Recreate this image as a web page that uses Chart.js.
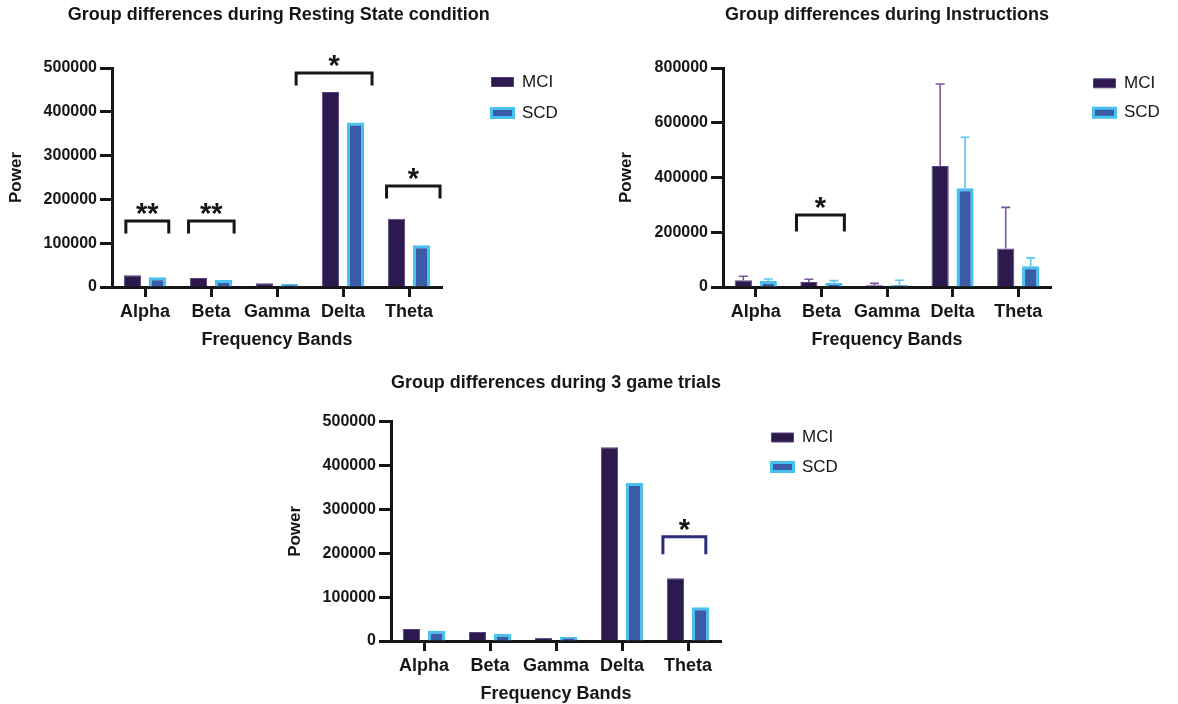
<!DOCTYPE html>
<html><head><meta charset="utf-8">
<script src="https://cdn.jsdelivr.net/npm/chart.js@4.4.1/dist/chart.umd.min.js"></script>
<style>
html,body{margin:0;padding:0;background:#fff;overflow:hidden;width:1178px;height:704px;}
canvas{position:absolute;}
</style></head><body>
<canvas id="c1" width="580" height="355" style="left:0;top:0"></canvas>
<canvas id="c2" width="578" height="355" style="left:600px;top:0"></canvas>
<canvas id="c3" width="580" height="341" style="left:280px;top:368px"></canvas>
<script>
// ---- data ----
const categories = ['Alpha', 'Beta', 'Gamma', 'Delta', 'Theta'];
const seriesNames = ['MCI', 'SCD'];

const restMCI = [26700, 20600, 8400, 445000, 155700];
const restSCD = [22100, 16000, 6900, 375600, 95400];

const instrMCI = [24400, 18300, 6100, 442100, 140500];
const instrSCD = [22000, 14700, 7300, 360300, 75700];
const instrErrMCI = [14700, 9800, 7300, 299300, 150200];
const instrErrSCD = [7300, 8500, 17100, 186900, 30600];

const gameMCI = [27400, 20500, 7600, 441500, 142900];
const gameSCD = [23600, 16700, 9900, 360000, 76700];

const restTicks = [0, 100000, 200000, 300000, 400000, 500000];
const instrTicks = [0, 200000, 400000, 600000, 800000];
const gameTicks = [0, 100000, 200000, 300000, 400000, 500000];

// significance brackets: span in category units, height in data units
const restSig = [
  {from: -0.29, to: 0.36, value: 150400, label: '**'},
  {from: 0.66, to: 1.35, value: 150400, label: '**'},
  {from: 2.29, to: 3.44, value: 488500, label: '*'},
  {from: 3.66, to: 4.47, value: 230500, label: '*'}
];
const instrSig = [{from: 0.62, to: 1.35, value: 262600, label: '*'}];
const gameSig = [{from: 3.62, to: 4.27, value: 237800, label: '*'}];

// ---- style ----
const FONT = "'Liberation Sans', Arial, Helvetica, sans-serif";
const INK = '#161616';
const MCI_FILL = '#2c1a4f', MCI_EDGE = '#5b3f82';
const SCD_FILL = '#3a5ca8', SCD_EDGE = '#47c2ef';
const MCI_ERR = '#7b579d', SCD_ERR = '#5cc6f0';

const overlay = {
  id: 'overlay',
  afterDatasetsDraw(chart, args, opts) {
    const ctx = chart.ctx, x = chart.scales.x, y = chart.scales.y;
    ctx.save();
    (opts.errors || []).forEach((errs, di) => {
      if (!errs) return;
      const meta = chart.getDatasetMeta(di);
      const vals = chart.data.datasets[di].data;
      ctx.strokeStyle = opts.errColors[di];
      ctx.lineWidth = 1.6;
      meta.data.forEach((bar, i) => {
        const yTop = y.getPixelForValue(vals[i] + errs[i]);
        ctx.beginPath();
        ctx.moveTo(bar.x, bar.y);
        ctx.lineTo(bar.x, yTop);
        ctx.moveTo(bar.x - 4.5, yTop);
        ctx.lineTo(bar.x + 4.5, yTop);
        ctx.stroke();
      });
    });
    (opts.brackets || []).forEach(b => {
      const x1 = x.getPixelForValue(b.from), x2 = x.getPixelForValue(b.to);
      const yy = y.getPixelForValue(b.value);
      ctx.strokeStyle = opts.bracketColor;
      ctx.lineWidth = 3;
      ctx.lineJoin = 'miter';
      ctx.lineCap = 'square';
      ctx.beginPath();
      ctx.moveTo(x1, yy + opts.leg);
      ctx.lineTo(x1, yy);
      ctx.lineTo(x2, yy);
      ctx.lineTo(x2, yy + opts.leg);
      ctx.stroke();
      ctx.fillStyle = INK;
      ctx.font = 'bold 29px ' + FONT;
      ctx.textAlign = 'center';
      ctx.textBaseline = 'alphabetic';
      ctx.fillText(b.label, (x1 + x2) / 2, yy + 2);
    });
    ctx.restore();
  }
};

function makeChart(id, cfg) {
  return new Chart(document.getElementById(id), {
    type: 'bar',
    data: {
      labels: categories,
      datasets: [
        {label: seriesNames[0], data: cfg.mci, backgroundColor: MCI_FILL, borderColor: MCI_EDGE, borderWidth: 1},
        {label: seriesNames[1], data: cfg.scd, backgroundColor: SCD_FILL, borderColor: SCD_EDGE, borderWidth: 3}
      ]
    },
    options: {
      responsive: false,
      animation: false,
      devicePixelRatio: 1,
      datasets: {bar: {categoryPercentage: 0.76, barPercentage: 0.69}},
      layout: {padding: {left: 0, top: 0, right: cfg.padRight, bottom: 0}},
      scales: {
        x: {
          offset: true,
          grid: {display: true, drawOnChartArea: false, drawTicks: true, tickLength: 10, tickWidth: 3, tickColor: INK, offset: false},
          border: {display: true, width: 3, color: INK},
          ticks: {color: INK, font: {family: FONT, size: 18, weight: 'bold'}, padding: 4, maxRotation: 0, autoSkip: false},
          title: {display: true, text: 'Frequency Bands', color: INK, font: {family: FONT, size: 18, weight: 'bold'}, padding: {top: 0, bottom: 4}},
          afterFit: s => { s.height = cfg.xHeight; }
        },
        y: {
          min: 0,
          max: cfg.ticks[cfg.ticks.length - 1],
          afterBuildTicks: s => { s.ticks = cfg.ticks.map(v => ({value: v})); },
          ticks: {color: INK, font: {family: FONT, size: 16, weight: 'bold'}, padding: 3, callback: v => String(v)},
          grid: {display: true, drawOnChartArea: false, drawTicks: true, tickLength: 12, tickWidth: 3, tickColor: INK},
          border: {display: true, width: 3, color: INK},
          title: {display: true, text: 'Power', color: INK, font: {family: FONT, size: 17, weight: 'bold'}, padding: {top: cfg.powerPad, bottom: 0}},
          afterFit: s => { s.width = cfg.yWidth; }
        },
        spacer: {
          type: 'linear', position: 'right', display: true,
          grid: {display: false}, border: {display: false}, ticks: {display: false},
          afterFit: s => { s.width = cfg.spacer; }
        }
      },
      plugins: {
        title: {
          display: true, text: cfg.title, fullSize: cfg.titleFull, color: INK,
          font: {family: FONT, size: 18, weight: 'bold'},
          padding: {top: cfg.titleTop, bottom: cfg.titleBottom}
        },
        legend: {
          position: 'right', align: 'start', fullSize: true, maxWidth: 80,
          labels: {boxWidth: 22, boxHeight: 9, padding: cfg.legendPad, color: INK, font: {family: FONT, size: 17}},
          title: {display: true, text: '', font: {family: FONT, size: 10, lineHeight: 1}, padding: {top: cfg.legendTop, bottom: 0}}
        },
        tooltip: {enabled: false},
        overlay: {
          errors: cfg.errors || [],
          errColors: [MCI_ERR, SCD_ERR],
          brackets: cfg.brackets,
          bracketColor: cfg.bracketColor,
          leg: cfg.leg
        }
      }
    },
    plugins: [overlay]
  });
}

makeChart('c1', {
  title: 'Group differences during Resting State condition', titleFull: true,
  mci: restMCI, scd: restSCD, ticks: restTicks,
  brackets: restSig, bracketColor: INK, leg: 11,
  yWidth: 112, xHeight: 68, spacer: 35.5, padRight: 22.5,
  titleTop: 4.2, titleBottom: 42.2, powerPad: 6.5,
  legendPad: 14, legendTop: 49.5
});

makeChart('c2', {
  title: 'Group differences during Instructions', titleFull: false,
  mci: instrMCI, scd: instrSCD, ticks: instrTicks,
  errors: [instrErrMCI, instrErrSCD],
  brackets: instrSig, bracketColor: INK, leg: 15,
  yWidth: 123, xHeight: 68, spacer: 30, padRight: 17,
  titleTop: 4.2, titleBottom: 42.2, powerPad: 16.5,
  legendPad: 12.5, legendTop: 52.3
});

makeChart('c3', {
  title: 'Group differences during 3 game trials', titleFull: false,
  mci: gameMCI, scd: gameSCD, ticks: gameTicks,
  brackets: gameSig, bracketColor: '#2b2d7c', leg: 16,
  yWidth: 111, xHeight: 68, spacer: 38, padRight: 21,
  titleTop: 4.5, titleBottom: 27.6, powerPad: 5.5,
  legendPad: 12.5, legendTop: 38.5
});
</script>
</body></html>
